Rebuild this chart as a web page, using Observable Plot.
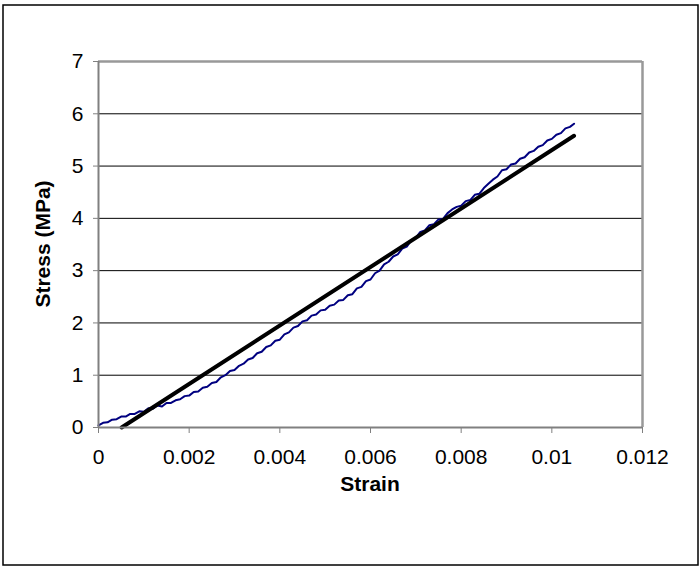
<!DOCTYPE html>
<html>
<head>
<meta charset="utf-8">
<script src="https://cdn.jsdelivr.net/npm/d3@7"></script>
<script src="https://cdn.jsdelivr.net/npm/@observablehq/plot@0.6"></script>
<style>
  html, body { margin: 0; padding: 0; background: #fff; }
  svg { display: block; }
</style>
</head>
<body>
<div id="chart"></div>
<script>
// Measured curve (strain, stress in MPa)
const strain = [0.0000,0.0001,0.0002,0.0003,0.0004,0.0005,0.0006,0.0007,0.0008,0.0009,
  0.0010,0.0011,0.0012,0.0013,0.0014,0.0015,0.0016,0.0017,0.0018,0.0019,
  0.0020,0.0021,0.0022,0.0023,0.0024,0.0025,0.0026,0.0027,0.0028,0.0029,
  0.0030,0.0031,0.0032,0.0033,0.0034,0.0035,0.0036,0.0037,0.0038,0.0039,
  0.0040,0.0041,0.0042,0.0043,0.0044,0.0045,0.0046,0.0047,0.0048,0.0049,
  0.0050,0.0051,0.0052,0.0053,0.0054,0.0055,0.0056,0.0057,0.0058,0.0059,
  0.0060,0.0061,0.0062,0.0063,0.0064,0.0065,0.0066,0.0067,0.0068,0.0069,
  0.0070,0.0071,0.0072,0.0073,0.0074,0.0075,0.0076,0.0077,0.0078,0.0079,
  0.0080,0.0081,0.0082,0.0083,0.0084,0.0085,0.0086,0.0087,0.0088,0.0089,
  0.0090,0.0091,0.0092,0.0093,0.0094,0.0095,0.0096,0.0097,0.0098,0.0099,
  0.0100,0.0101,0.0102,0.0103,0.0104,0.01049];
const stress = [0.04,0.09,0.10,0.15,0.16,0.21,0.21,0.26,0.26,0.31,
  0.30,0.37,0.36,0.42,0.40,0.47,0.47,0.52,0.54,0.60,
  0.61,0.68,0.69,0.76,0.78,0.85,0.87,0.96,1.00,1.08,
  1.10,1.18,1.22,1.30,1.33,1.42,1.45,1.54,1.57,1.66,
  1.68,1.78,1.82,1.91,1.94,2.03,2.05,2.14,2.16,2.24,
  2.25,2.33,2.35,2.43,2.44,2.53,2.55,2.66,2.69,2.80,
  2.83,2.95,3.00,3.12,3.17,3.27,3.31,3.42,3.46,3.58,
  3.63,3.74,3.77,3.87,3.89,3.98,3.99,4.10,4.17,4.22,
  4.24,4.33,4.35,4.45,4.47,4.58,4.66,4.74,4.80,4.92,
  4.94,5.03,5.05,5.14,5.17,5.26,5.29,5.37,5.40,5.49,
  5.52,5.60,5.63,5.72,5.75,5.81];

// Linear fit line
const fitStrain = [0.00051, 0.01049];
const fitStress = [0, 5.58];

// Ticks
const xTicks = [0, 0.002, 0.004, 0.006, 0.008, 0.01, 0.012];
const yTicks = [0, 1, 2, 3, 4, 5, 6, 7];
const gridY = [1, 2, 3, 4, 5, 6];
const xLabel = "Strain";
const yLabel = "Stress (MPa)";

const curve = strain.map((s, i) => ({x: s, y: stress[i]}));
const fit = fitStrain.map((s, i) => ({x: s, y: fitStress[i]}));

const W = 699, H = 567;
const font = "'Liberation Sans', Arial, sans-serif";

const chart = Plot.plot({
  width: W,
  height: H,
  marginLeft: 98,
  marginRight: 57,
  marginTop: 61,
  marginBottom: 140,
  style: {fontFamily: font, fontSize: "21px", color: "#000", background: "#fff"},
  x: {domain: [0, 0.012], ticks: xTicks, tickFormat: d => String(d), label: null},
  y: {domain: [0, 7], ticks: yTicks, tickFormat: d => String(d), label: null},
  marks: [
    Plot.ruleY(gridY, {stroke: "#000", strokeWidth: 1}),
    Plot.ruleY([7], {stroke: "#999", strokeWidth: 2.5}),
    Plot.ruleX([0.012], {stroke: "#999", strokeWidth: 2.5}),
    Plot.axisX({ticks: xTicks, tickFormat: d => String(d), tickSize: 6, tickPadding: 16, stroke: "#808080", label: null, fontSize: 21}),
    Plot.axisY({ticks: yTicks, tickFormat: d => String(d), tickSize: 5, tickPadding: 10, stroke: "#808080", label: null, fontSize: 21}),
    Plot.line(curve, {x: "x", y: "y", stroke: "#000080", strokeWidth: 2}),
    Plot.line(fit, {x: "x", y: "y", stroke: "#000", strokeWidth: 4}),
    Plot.ruleX([0], {stroke: "#808080", strokeWidth: 2}),
    Plot.ruleY([0], {stroke: "#808080", strokeWidth: 2})
  ]
});

const svg = d3.select(chart);
svg.append("rect")
  .attr("x", 3).attr("y", 5).attr("width", 695).attr("height", 560)
  .attr("fill", "none").attr("stroke", "#000").attr("stroke-width", 1.5);
svg.append("text")
  .attr("transform", "translate(50,244) rotate(-90)")
  .attr("text-anchor", "middle")
  .attr("font-family", font).attr("font-size", 21).attr("font-weight", "bold")
  .attr("fill", "#000")
  .text(yLabel);
svg.append("text")
  .attr("x", 370).attr("y", 491)
  .attr("text-anchor", "middle")
  .attr("font-family", font).attr("font-size", 21).attr("font-weight", "bold")
  .attr("fill", "#000")
  .text(xLabel);

document.getElementById("chart").appendChild(chart);
</script>
</body>
</html>
